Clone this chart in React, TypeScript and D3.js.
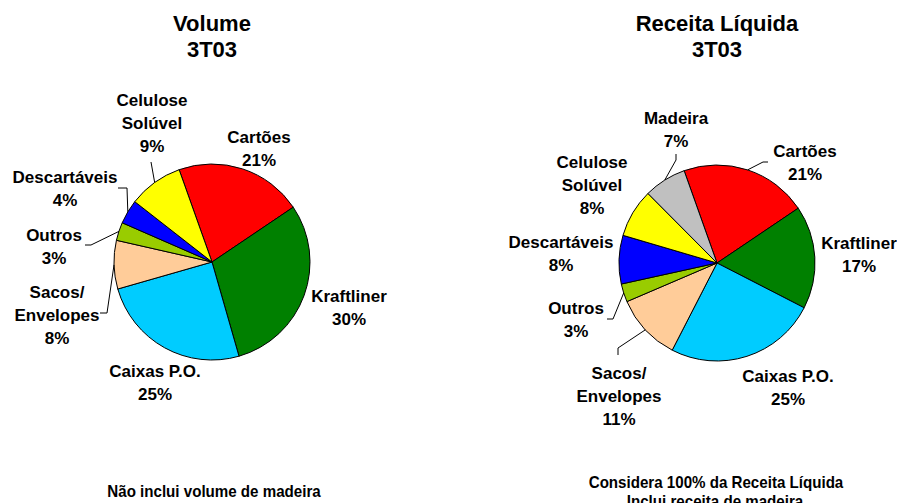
import React from 'react';
import * as d3 from 'd3';

// categories (line breaks mark where the label wraps)
const volumeCategories = ['Cartões', 'Kraftliner', 'Caixas P.O.', 'Sacos/\nEnvelopes', 'Outros', 'Descartáveis', 'Celulose\nSolúvel'];
const volumeValues = [21, 30, 25, 8, 3, 4, 9];

const receitaCategories = ['Cartões', 'Kraftliner', 'Caixas P.O.', 'Sacos/\nEnvelopes', 'Outros', 'Descartáveis', 'Celulose\nSolúvel', 'Madeira'];
const receitaValues = [21, 17, 25, 11, 3, 8, 8, 7];

const colorByCategory: Record<string, string> = {
  'Cartões': '#FF0000',
  'Kraftliner': '#008000',
  'Caixas P.O.': '#00CCFF',
  'Sacos/\nEnvelopes': '#FFCC99',
  'Outros': '#99CC00',
  'Descartáveis': '#0000FF',
  'Celulose\nSolúvel': '#FFFF00',
  'Madeira': '#C0C0C0',
};

const FONT = "'Liberation Sans', Arial, sans-serif";
const R = 98;
const START = (-19.6 * Math.PI) / 180;

type Pos = { dx: number; dy: number };

// label placement, relative to the pie centre (first baseline)
const volumeLabelPos: Pos[] = [
  { dx: 47, dy: -119 }, { dx: 137, dy: 40 }, { dx: -57, dy: 115 }, { dx: -155, dy: 36 },
  { dx: -158, dy: -21 }, { dx: -147, dy: -79 }, { dx: -60, dy: -156 },
];
const receitaLabelPos: Pos[] = [
  { dx: 88, dy: -106 }, { dx: 142, dy: -14 }, { dx: 71, dy: 119 }, { dx: -98, dy: 116 },
  { dx: -141, dy: 51 }, { dx: -156, dy: -15 }, { dx: -125, dy: -95 }, { dx: -41, dy: -139 },
];

// leader line elbows (relative to centre); the last point is the slice edge
const volumeLeaders: Record<number, [number, number][]> = {
  3: [[-112, 51], [-105, 51]],
  4: [[-127, -17], [-121, -17]],
  5: [[-94, -74], [-85, -74]],
  6: [[-61, -100]],
};
const receitaLeaders: Record<number, [number, number][]> = {
  0: [[51, -101], [46, -101]],
  3: [[-99, 92], [-99, 85]],
  4: [[-110, 56], [-104, 56]],
  7: [[-41, -109], [-41, -103]],
};

function Pie({ cx, cy, title, categories, values, labelPos, leaders }: {
  cx: number; cy: number; title: string[]; categories: string[]; values: number[];
  labelPos: Pos[]; leaders: Record<number, [number, number][]>;
}) {
  const data = categories.map((c, i) => ({ c, v: values[i] }));
  const pie = d3.pie<{ c: string; v: number }>().sort(null).value((d) => d.v)
    .startAngle(START).endAngle(START + 2 * Math.PI);
  const arcs = pie(data);
  const arc = d3.arc<d3.PieArcDatum<{ c: string; v: number }>>().innerRadius(0).outerRadius(R);
  const line = d3.line();

  return (
    <g>
      <g fontFamily={FONT} fontWeight="bold" fontSize={22} textAnchor="middle">
        {title.map((t, i) => (
          <text key={i} x={cx} y={31 + i * 26}>{t}</text>
        ))}
      </g>
      <g transform={`translate(${cx},${cy})`}>
        {arcs.map((a, i) => (
          <path key={i} d={arc(a) || ''} fill={colorByCategory[a.data.c]} stroke="#000" strokeWidth={1} />
        ))}
        {arcs.map((a, i) => {
          const pts = leaders[i];
          if (!pts) return null;
          const mid = (a.startAngle + a.endAngle) / 2;
          const edge: [number, number] = [R * Math.sin(mid), -R * Math.cos(mid)];
          return <path key={'l' + i} d={line([...pts, edge]) || ''} fill="none" stroke="#000" strokeWidth={1} />;
        })}
        <g fontFamily={FONT} fontWeight="bold" fontSize={17} textAnchor="middle">
          {arcs.map((a, i) => {
            const lines = [...a.data.c.split('\n'), `${a.data.v}%`];
            const p = labelPos[i];
            return (
              <text key={'t' + i} x={p.dx} y={p.dy}>
                {lines.map((ln, j) => (
                  <tspan key={j} x={p.dx} dy={j === 0 ? 0 : 23}>{ln}</tspan>
                ))}
              </text>
            );
          })}
        </g>
      </g>
    </g>
  );
}

// narrow-looking footnote: regular bold font squeezed horizontally
function Note({ x, y, text }: { x: number; y: number; text: string }) {
  return (
    <g transform={`translate(${x},${y}) scale(0.89,1)`}>
      <text x={0} y={0} fontFamily={FONT} fontWeight="bold" fontSize={17} textAnchor="middle">{text}</text>
    </g>
  );
}

export default function App() {
  return (
    <div style={{ position: 'fixed', left: 0, top: 0 }}>
      <svg width={897} height={503} style={{ display: 'block', background: '#fff' }}>
        <Pie cx={212} cy={262} title={['Volume', '3T03']} categories={volumeCategories}
          values={volumeValues} labelPos={volumeLabelPos} leaders={volumeLeaders} />
        <Pie cx={717} cy={263} title={['Receita Líquida', '3T03']} categories={receitaCategories}
          values={receitaValues} labelPos={receitaLabelPos} leaders={receitaLeaders} />
        <Note x={214} y={497} text="Não inclui volume de madeira" />
        <Note x={716} y={488} text="Considera 100% da Receita Líquida" />
        <Note x={715} y={507} text="Inclui receita de madeira" />
      </svg>
    </div>
  );
}
